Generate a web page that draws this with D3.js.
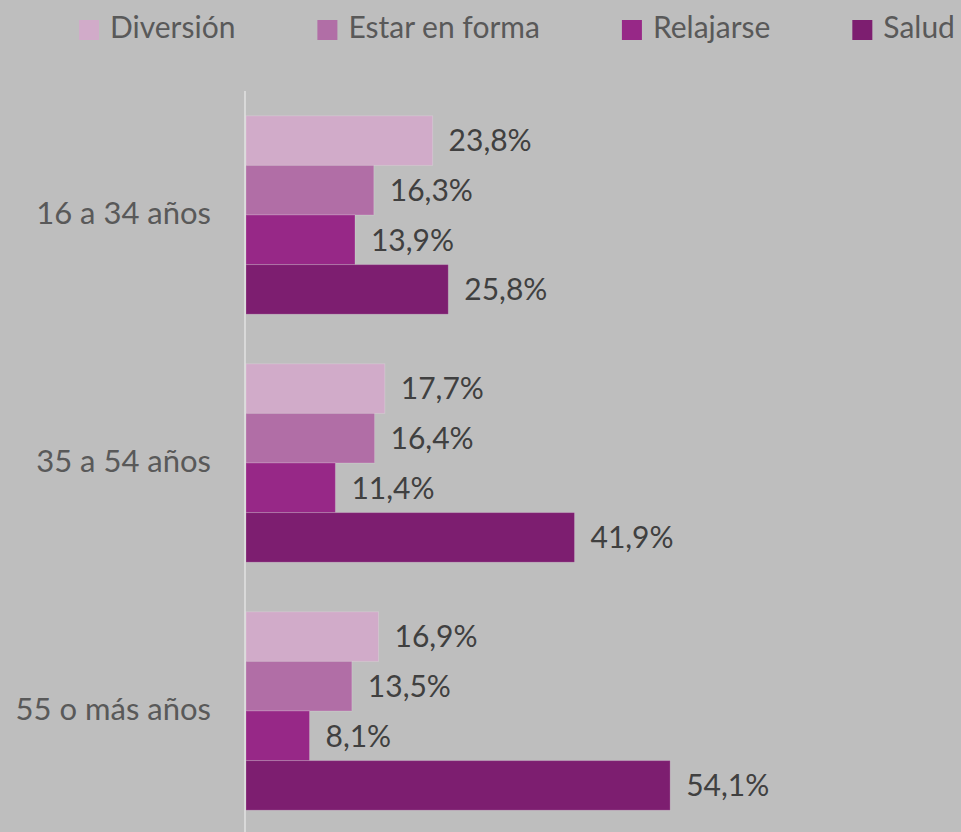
<!DOCTYPE html>
<html>
<head>
<meta charset="utf-8">
<script src="https://cdn.jsdelivr.net/npm/d3@7"></script>
<style>
    html, body {margin: 0; padding: 0; background: #bebebe;}
    svg {display: block;}
    text {font-family: Lato, "Open Sans", sans-serif;}
</style>
</head>
<body>
<svg id="chart" width="961" height="832"></svg>
<script>
const groups = ["16 a 34 años", "35 a 54 años", "55 o más años"];
const series = ["Diversión", "Estar en forma", "Relajarse", "Salud"];
const diversion = [23.8, 17.7, 16.9];
const enForma = [16.3, 16.4, 13.5];
const relajarse = [13.9, 11.4, 8.1];
const salud = [25.8, 41.9, 54.1];
const colors = ["#d1abc9", "#b16ea6", "#972887", "#7d1e70"];

const values = [diversion, enForma, relajarse, salud];
const rows = groups.map((g, i) => ({
    group: g,
    bars: series.map((s, j) => ({series: s, value: values[j][i], color: colors[j]}))
}));

const svg = d3.select("#chart");
const fmt = v => d3.format(".1f")(v).replace(".", ",") + "%";

const x = d3.scaleLinear().domain([0, 60]).range([246, 716.4]);
const y0 = d3.scaleBand().domain(groups).range([91, 835])
    .paddingInner(0.2).paddingOuter(0.1);
const y1 = d3.scaleBand().domain(series).range([0, y0.bandwidth()]);

// category axis line
svg.append("line")
    .attr("x1", 245).attr("x2", 245)
    .attr("y1", y0.range()[0]).attr("y2", y0.range()[1])
    .attr("stroke", "#d9d9d9").attr("stroke-width", 2);

const g = svg.selectAll("g.group")
    .data(rows)
    .join("g")
    .attr("class", "group")
    .attr("transform", d => `translate(0,${y0(d.group)})`);

g.selectAll("rect")
    .data(d => d.bars)
    .join("rect")
    .attr("x", x(0))
    .attr("y", d => y1(d.series))
    .attr("width", d => x(d.value) - x(0))
    .attr("height", y1.bandwidth())
    .attr("fill", d => d.color)
    .attr("stroke", "rgba(255,255,255,0.18)")
    .attr("stroke-width", 1);

g.selectAll("text.value")
    .data(d => d.bars)
    .join("text")
    .attr("class", "value")
    .attr("x", d => x(d.value) + 16)
    .attr("y", d => y1(d.series) + y1.bandwidth() / 2)
    .attr("dy", "0.36em")
    .attr("fill", "#404040")
    .attr("font-size", 30)
    .text(d => fmt(d.value));

g.append("text")
    .attr("x", 211)
    .attr("y", y0.bandwidth() / 2)
    .attr("dy", "0.3em")
    .attr("text-anchor", "end")
    .attr("fill", "#595959")
    .attr("font-size", 31)
    .text(d => d.group);

// legend
const legend = svg.append("g").attr("class", "legend");
let lx = 79;
series.forEach((s, i) => {
    const item = legend.append("g").attr("transform", `translate(${lx},0)`);
    item.append("rect")
        .attr("x", 0).attr("y", 20)
        .attr("width", 20).attr("height", 20)
        .attr("fill", colors[i]);
    const t = item.append("text")
        .attr("x", 31).attr("y", 38)
        .attr("fill", "#595959")
        .attr("font-size", 30)
        .text(s);
    lx += 31 + t.node().getComputedTextLength() + 82;
});
</script>
</body>
</html>
